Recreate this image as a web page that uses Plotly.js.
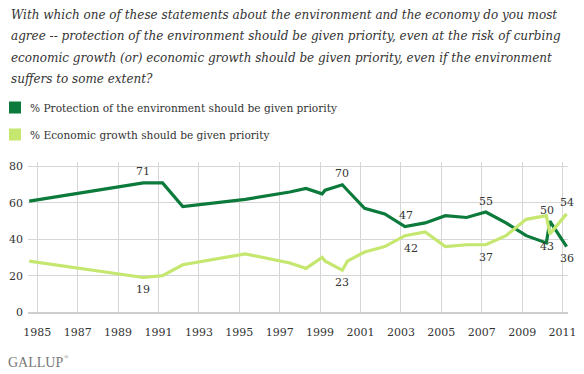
<!DOCTYPE html>
<html>
<head>
<meta charset="utf-8">
<script src="https://cdn.plot.ly/plotly-3.0.1.min.js"></script>
<style>html,body{margin:0;padding:0;background:#fff;}#chart{width:584px;height:374px;}</style>
</head>
<body>
<div id="chart"></div>
<script>
// Survey dates (fractional year) and percentages
const dates = [1984.6, 1990.25, 1991.2, 1992.2, 1995.3, 1997.5, 1998.3, 1999.1, 1999.25, 2000.1, 2000.35, 2001.2, 2002.2, 2003.2, 2004.2, 2005.2, 2006.25, 2007.2, 2008.2, 2009.2, 2010.2, 2010.37, 2011.2];
const environment = [61, 71, 71, 58, 62, 66, 68, 65, 67, 70, 67, 57, 54, 47, 49, 53, 52, 55, 49, 42, 38, 50, 36];
const economy = [28, 19, 20, 26, 32, 27, 24, 30, 28, 23, 28, 33, 36, 42, 44, 36, 37, 37, 42, 51, 53, 43, 54];
const xTickVals = [1985, 1987, 1989, 1991, 1993, 1995, 1997, 1999, 2001, 2003, 2005, 2007, 2009, 2011];
const yTickVals = [0, 20, 40, 60, 80];
const seriesNames = ["% Protection of the environment should be given priority", "% Economic growth should be given priority"];
const titleLines = [
  "With which one of these statements about the environment and the economy do you most",
  "agree -- protection of the environment should be given priority, even at the risk of curbing",
  "economic growth (or) economic growth should be given priority, even if the environment",
  "suffers to some extent?"
];
// labelled points: index into dates, which series
const labelIdx = [1, 1, 9, 9, 13, 13, 17, 17, 21, 21, 22, 22];
const labelSeries = ["env", "eco", "env", "eco", "env", "eco", "env", "eco", "env", "eco", "eco", "env"];

const W = 584, H = 374;
const M = {l: 28, r: 16, t: 162, b: 62};
const PW = W - M.l - M.r, PH = H - M.t - M.b;
const px = p => (p - M.l) / PW;
const py = p => (H - M.b - p) / PH;

const DARK = '#0b7a3b', LIGHT = '#c6e76f';
const SERIF = 'DejaVu Serif';
const TIMES = 'Liberation Serif';

const traces = [
  {x: dates, y: environment, type: 'scatter', mode: 'lines', name: seriesNames[0],
   line: {color: DARK, width: 3.2}, hoverinfo: 'x+y'},
  {x: dates, y: economy, type: 'scatter', mode: 'lines', name: seriesNames[1],
   line: {color: LIGHT, width: 3.2}, hoverinfo: 'x+y'}
];

const annotations = [];
titleLines.forEach((t, i) => {
  annotations.push({xref: 'paper', yref: 'paper', x: px(9), y: py(15 + i * 21.4),
    xanchor: 'left', yanchor: 'middle', showarrow: false, text: '<i>' + t + '</i>',
    font: {family: SERIF, size: 12, color: '#333'}});
});
seriesNames.forEach((t, i) => {
  annotations.push({xref: 'paper', yref: 'paper', x: px(28), y: py(107.5 + i * 27),
    xanchor: 'left', yanchor: 'middle', showarrow: false, text: t,
    font: {family: SERIF, size: 10.6, color: '#333'}});
});
const shapes = [
  {type: 'rect', xref: 'paper', yref: 'paper', x0: px(9), x1: px(21), y0: py(101.5), y1: py(113.5), fillcolor: DARK, line: {width: 0}},
  {type: 'rect', xref: 'paper', yref: 'paper', x0: px(9), x1: px(21), y0: py(128.5), y1: py(140.5), fillcolor: LIGHT, line: {width: 0}}
];
labelIdx.forEach((idx, k) => {
  const s = labelSeries[k];
  const v = s === 'env' ? environment[idx] : economy[idx];
  let ys = s === 'env' ? 11 : -12.5;
  if (k === 10) ys = 11;      // 54 above
  if (k === 11) ys = -12;     // 36 below
  let xs = 0;
  if (idx === 21) xs = -3;
  if (idx === 13) xs = s === 'eco' ? 6 : 1;
  annotations.push({xref: 'x', yref: 'y', x: dates[idx], y: v, text: String(v),
    showarrow: false, xanchor: 'center', yanchor: 'middle', yshift: ys, xshift: xs,
    font: {family: SERIF, size: 11, color: '#333'}});
});
annotations.push({xref: 'paper', yref: 'paper', x: px(6), y: py(362),
  xanchor: 'left', yanchor: 'middle', showarrow: false,
  text: 'GALLUP', font: {family: TIMES, size: 14, color: '#777'}});
annotations.push({xref: 'paper', yref: 'paper', x: px(62), y: py(357),
  xanchor: 'left', yanchor: 'middle', showarrow: false,
  text: '®', font: {family: TIMES, size: 6, color: '#777'}});

const layout = {
  width: W, height: H,
  margin: M,
  font: {family: SERIF, color: '#333'},
  paper_bgcolor: '#fff', plot_bgcolor: '#fff',
  showlegend: false,
  xaxis: {range: [1984.54, 2011.27], tickvals: xTickVals, ticktext: xTickVals.map(String),
    showgrid: true, gridcolor: '#d6d6d6', gridwidth: 1, zeroline: false,
    showline: true, linecolor: '#cfcfcf', linewidth: 2, ticks: '',
    ticklabelstandoff: 9,
    tickfont: {family: SERIF, size: 11, color: '#333'}},
  yaxis: {range: [0, PH / 1.8175], tickvals: yTickVals, ticktext: yTickVals.map(String),
    showgrid: true, gridcolor: '#d6d6d6', gridwidth: 1, zeroline: false,
    showline: false, ticks: '', ticklabelstandoff: 4,
    tickfont: {family: SERIF, size: 11, color: '#333'}},
  annotations: annotations,
  shapes: shapes
};
Plotly.newPlot('chart', traces, layout, {displayModeBar: false, staticPlot: true});
</script>
</body>
</html>
